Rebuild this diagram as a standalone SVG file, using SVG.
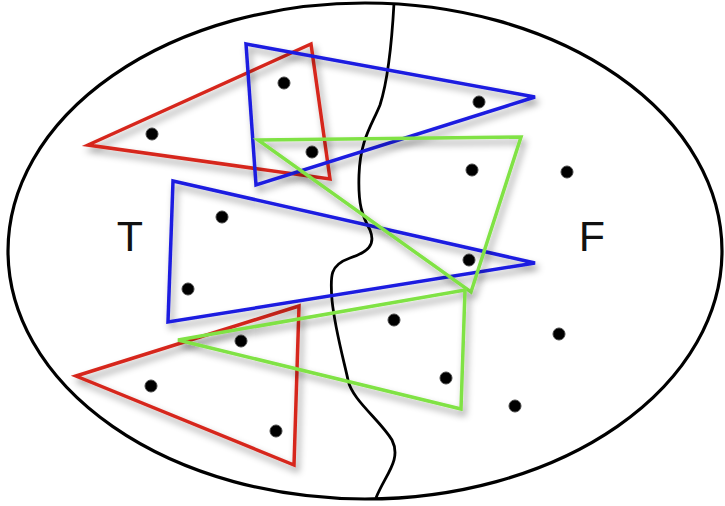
<svg xmlns="http://www.w3.org/2000/svg" width="725" height="506" viewBox="0 0 725 506">
<defs>
<filter id="sh" x="-20%" y="-20%" width="140%" height="140%">
<feDropShadow dx="3" dy="5" stdDeviation="3.5" flood-color="#000" flood-opacity="0.4"/>
</filter>
</defs>
<style>
.tri{fill:none;stroke-width:3.5;stroke-linejoin:miter;filter:url(#sh)}
.r{stroke:#d6281d}
.b{stroke:#1c1ce0}
.g{stroke:#80e244}
.dot{fill:#000;stroke:#444;stroke-width:1}
.lbl{font-family:"Liberation Sans",Arial,sans-serif;font-size:43px;fill:#111;text-anchor:middle}
</style>
<rect width="725" height="506" fill="#fff"/>
<g id="set">
<ellipse cx="365" cy="251" rx="357" ry="248" fill="none" stroke="#000" stroke-width="3.2"/>
</g>
<g id="boundary">
<path d="M 394 3 C 392 40, 388 80, 380 105 C 372 125, 360 140, 359 175 C 358 205, 362 215, 370 230 C 376 245, 368 252, 350 258 C 330 265, 330 275, 332 300 C 335 330, 345 365, 348 380 C 352 400, 380 420, 392 440 C 402 460, 385 475, 376 498" fill="none" stroke="#000" stroke-width="2.8"/>
</g>
<g id="triangles">
<polygon id="red-top" class="tri r" points="88,145 311,44 330,179"/>
<polygon id="red-bottom" class="tri r" points="76,376 299,306 294,465"/>
<polygon id="blue-top" class="tri b" points="246,44 535,97 256,185"/>
<polygon id="blue-middle" class="tri b" points="173,181 535,263 168,322"/>
<polygon id="green-top" class="tri g" points="258,140 521,137 471,292"/>
<polygon id="green-bottom" class="tri g" points="178,340 465,290 461,409"/>
</g>
<g id="points">
<circle class="dot" cx="284" cy="83" r="6"/>
<circle class="dot" cx="152" cy="134" r="6"/>
<circle class="dot" cx="312" cy="152" r="6"/>
<circle class="dot" cx="479" cy="102" r="6"/>
<circle class="dot" cx="472" cy="170" r="6"/>
<circle class="dot" cx="567" cy="172" r="6"/>
<circle class="dot" cx="222" cy="217" r="6"/>
<circle class="dot" cx="469" cy="260" r="6"/>
<circle class="dot" cx="188" cy="289" r="6"/>
<circle class="dot" cx="394" cy="320" r="6"/>
<circle class="dot" cx="241" cy="341" r="6"/>
<circle class="dot" cx="559" cy="334" r="6"/>
<circle class="dot" cx="151" cy="386" r="6"/>
<circle class="dot" cx="446" cy="378" r="6"/>
<circle class="dot" cx="515" cy="406" r="6"/>
<circle class="dot" cx="276" cy="431" r="6"/>
</g>
<g id="labels">
<text class="lbl" x="130" y="251">T</text>
<text class="lbl" x="592" y="251">F</text>
</g>
</svg>
